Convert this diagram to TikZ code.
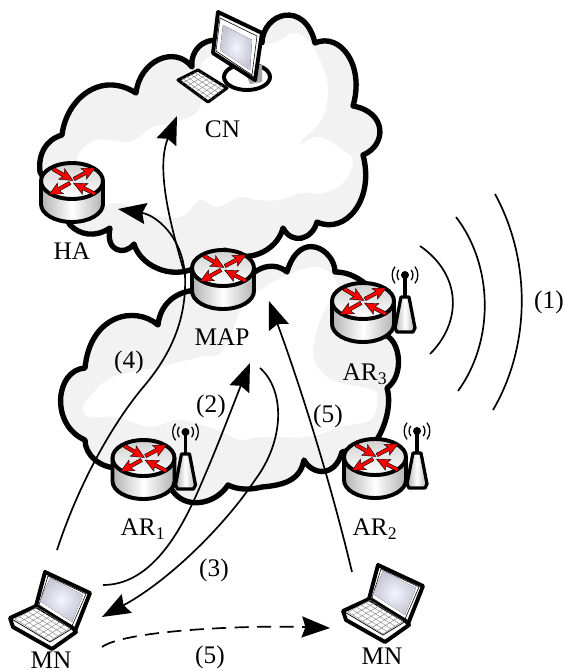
\documentclass[tikz,border=0pt]{standalone}
\usepackage{fontspec}
\setmainfont{Liberation Serif}
\usetikzlibrary{arrows.meta,calc}

\tikzset{
  cloudline/.style={line width=3.8pt,line join=round,fill=black!5},
  devline/.style={line width=2.8pt,line join=round},
  sideshade/.style={left color=black!30,right color=black!30,middle color=white},
  topshade/.style={top color=black!18,bottom color=white},
  screenshade/.style={inner color=blue!4,outer color=blue!25!black!22},
  lbl/.style={font=\fontsize{18}{20}\selectfont,inner sep=0pt},
  flow/.style={line width=1.2pt,-{Stealth[length=20pt,width=15pt,inset=2.5pt]}},
  plainflow/.style={line width=1.2pt},
  wave/.style={line width=1.2pt},
}

% router, top centre at #1
\newcommand{\router}[1]{
\begin{scope}[shift={(#1)}]
\draw[devline,sideshade] (-31,0) -- (-31,23) .. controls (-31,33) and (-17,41) .. (0,41)
  .. controls (17,41) and (31,33) .. (31,23) -- (31,0) -- cycle;
\draw[devline,topshade] (0,0) ellipse (31 and 18);
\foreach \sx/\sy/\ang/\len in {-19/-12/-30/23, 2/-2/28/24, -2/2/209/24, 23/13/153/24}{
  \begin{scope}[shift={(\sx,\sy)},rotate=\ang]
  \draw[line width=0.3pt,fill=red] (0,-1.8) -- (\len-11,-1.8) -- (\len-13,-6) -- (\len,0)
    -- (\len-13,6) -- (\len-11,1.8) -- (0,1.8) -- cycle;
  \end{scope}
}
\end{scope}
}

% antenna beside a router with top centre at #1
\newcommand{\antenna}[1]{
\begin{scope}[shift={(#1)}]
\draw[devline,line width=2.3pt,sideshade] (38,-4) -- (46,-4) -- (52,27) -- (50,31) -- (34,31) -- (32,27) -- cycle;
\draw[line width=2.6pt] (42,-26) -- (42,-4);
\fill (42,-26) circle (4);
\foreach \rr in {8,13}{
  \draw[line width=0.9pt] ($(42,-26)+(40:\rr)$) .. controls ($(42,-26)+(15:\rr*1.1)$) and ($(42,-26)+(-15:\rr*1.1)$) .. ($(42,-26)+(-40:\rr)$);
  \draw[line width=0.9pt] ($(42,-26)+(140:\rr)$) .. controls ($(42,-26)+(165:\rr*1.1)$) and ($(42,-26)+(195:\rr*1.1)$) .. ($(42,-26)+(220:\rr)$);
}
\end{scope}
}

% laptop, moved by #1
\newcommand{\laptop}[1]{
\begin{scope}[shift={(#1)}]
\draw[devline,fill=white] (45,572) -- (90,593) -- (75,631) -- (36,606) -- cycle;
\draw[line width=0.4pt] (48,576) -- (86,594) -- (72,626) -- (39,605) -- cycle;
\fill[screenshade] (50,578) -- (83,595) -- (72,622) -- (40,601) -- cycle;
\draw[devline,fill=white] (36,606) -- (10,618) -- (13,627) -- (52,649) -- (76,632) -- (73,628) -- cycle;
\draw[line width=0.5pt] (10,618) -- (50,642) -- (73,628);
\draw[line width=0.3pt,black!50] (37,607) -- (15,619) -- (50,641) -- (70,628) -- cycle;
\foreach \t in {0.14,0.28,...,0.9}{
  \draw[line width=0.3pt,black!50] ($(37,607)!\t!(70,628)$) -- ($(15,619)!\t!(50,641)$);
}
\foreach \t in {0.2,0.4,...,0.9}{
  \draw[line width=0.3pt,black!50] ($(37,607)!\t!(15,619)$) -- ($(70,628)!\t!(50,641)$);
}
\end{scope}
}

\begin{document}
\begin{tikzpicture}[x=0.025cm,y=-0.025cm]
\useasboundingbox (0,0) rectangle (565,671);

% upper cloud
\draw[cloudline] (40,172) .. controls (38,155) and (45,140) .. (62,135)
  .. controls (66,100) and (100,70) .. (136,93)
  .. controls (140,60) and (175,45) .. (192,67)
  .. controls (190,50) and (205,35) .. (225,42)
  .. controls (240,45) and (250,50) .. (262,43)
  .. controls (263,12) and (305,0) .. (315,43)
  .. controls (340,32) and (365,65) .. (353,106)
  .. controls (387,112) and (387,145) .. (363,155)
  .. controls (375,200) and (345,235) .. (317,222)
  .. controls (312,240) and (292,245) .. (283,228)
  .. controls (277,252) and (245,265) .. (225,250)
  -- (195,268)
  .. controls (170,280) and (140,265) .. (134,244)
  .. controls (125,256) and (105,252) .. (110,228)
  .. controls (95,238) and (80,235) .. (70,225) -- cycle;
\fill[white] plot[smooth cycle,tension=0.6] coordinates {(77,160) (97,140) (130,142) (153,127) (177,122)
  (200,107) (205,60) (273,43) (293,33) (310,43) (327,80) (323,117) (300,143) (320,137) (347,153)
  (353,163) (343,183) (323,193) (300,193) (280,200) (257,200) (240,197) (217,207) (200,200)
  (180,217) (147,213) (120,203) (95,203)};

% lower cloud
\draw[cloudline] (200,290) .. controls (175,290) and (160,305) .. (158,325)
  .. controls (135,305) and (90,315) .. (85,368)
  .. controls (55,370) and (50,425) .. (85,440)
  .. controls (85,455) and (100,468) .. (118,468)
  -- (172,490)
  .. controls (185,510) and (215,505) .. (228,485)
  .. controls (238,490) and (250,490) .. (262,487)
  .. controls (285,485) and (300,480) .. (304,460)
  .. controls (312,475) and (335,478) .. (342,452)
  -- (373,445)
  .. controls (385,430) and (392,405) .. (387,388)
  .. controls (405,375) and (400,340) .. (385,335)
  -- (367,285)
  .. controls (355,275) and (345,272) .. (335,272)
  .. controls (335,250) and (300,228) .. (287,272)
  .. controls (275,262) and (260,265) .. (245,280) -- cycle;
\fill[white] plot[smooth cycle,tension=0.6] coordinates {(83,407) (93,393) (113,377) (160,367) (200,357)
  (223,350) (245,300) (260,290) (283,277) (317,267) (337,285) (320,320) (313,355) (323,373) (340,383)
  (373,390) (377,403) (370,420) (340,427) (307,437) (260,437) (240,440) (217,430) (180,420)
  (150,427) (117,417) (90,417)};

% computer of the CN
\draw[devline,fill=white] (247,77) ellipse (23 and 13);
\fill[black!35] (240,60) -- (262,65) -- (262,82) -- (250,84) -- cycle;
\draw[devline,fill=white] (218,12) -- (262,33) -- (255,80) -- (213,53) -- cycle;
\draw[line width=0.4pt] (220,18) -- (257,36) -- (252,75) -- (216,51) -- cycle;
\fill[screenshade] (223,25) -- (252,40) -- (250,70) -- (220,50) -- cycle;
\draw[devline,line width=2.2pt,fill=white] (178,80) -- (198,70) -- (227,88) -- (208,102) -- cycle;
\foreach \t in {0.14,0.28,...,0.9}{
  \draw[line width=0.3pt,black!50] ($(198,70)!\t!(227,88)$) -- ($(178,80)!\t!(208,102)$);
}
\foreach \t in {0.2,0.4,...,0.9}{
  \draw[line width=0.3pt,black!50] ($(198,70)!\t!(178,80)$) -- ($(227,88)!\t!(208,102)$);
}

% routers
\router{72,181}
\router{223,268}
\router{363,301}
\router{143.5,458}
\router{375,457}
\antenna{363,301}
\antenna{143.5,458}
\antenna{375,457}

% the two MN
\laptop{0,0}
\laptop{333,-7}

% labels
\node[lbl] (cnL) at (222.5,129) {CN};
\node[lbl] (haL) at (72,251) {HA};
\node[lbl] (mapL) at (222,337) {MAP};
\node[lbl] (arThreeL) at (365,374) {AR\textsubscript{3}};
\node[lbl] (arOneL) at (143,529) {AR\textsubscript{1}};
\node[lbl] (arTwoL) at (375,529) {AR\textsubscript{2}};
\node[lbl] (mnOneL) at (51,660) {MN};
\node[lbl] (mnTwoL) at (382,656) {MN};
\node[lbl] (stepOne) at (549,302) {(1)};
\node[lbl] (stepTwo) at (211,406) {(2)};
\node[lbl] (stepThree) at (214,570) {(3)};
\node[lbl] (stepFour) at (129,362) {(4)};
\node[lbl] (stepFive) at (328,416) {(5)};
\node[lbl] (stepFiveB) at (210,657) {(5)};

% connector ends
\coordinate (mnOneUp) at (57,550);
\coordinate (split) at (185,275);
\coordinate (haTip) at (118,209);
\coordinate (cnTip) at (177,116);
\coordinate (mnOneOut) at (103,585);
\coordinate (mapIn) at (250,363);
\coordinate (mapOut) at (260,368);
\coordinate (mnOneIn) at (102,617);
\coordinate (mnOneMove) at (102,647);
\coordinate (mnTwoIn) at (330,628);
\coordinate (mnTwoUp) at (352,572);
\coordinate (mapInB) at (269,301);

% flows
\draw[plainflow] (mnOneUp) .. controls (80,480) and (115,420) .. (145,385)
  .. controls (170,355) and (187,320) .. (split);
\draw[flow] (split) .. controls (182,235) and (155,215) .. (haTip);
\draw[flow] (split) .. controls (172,230) and (155,170) .. (cnTip);
\draw[flow] (mnOneOut) .. controls (160,585) and (190,510) .. (205,475)
  .. controls (220,440) and (235,400) .. (mapIn);
\draw[flow] (mapOut) .. controls (285,390) and (285,440) .. (255,480)
  .. controls (225,525) and (170,580) .. (mnOneIn);
\draw[flow] (mnTwoUp) .. controls (330,480) and (300,385) .. (mapInB);
\draw[flow,dash pattern=on 10pt off 6pt] (mnOneMove) .. controls (125,630) and (250,625) .. (mnTwoIn);

% radio waves
\coordinate (waveA) at (420,246);
\coordinate (waveB) at (430,354);
\coordinate (waveC) at (456,217);
\coordinate (waveD) at (458,391);
\coordinate (waveE) at (495,194);
\coordinate (waveF) at (493,410);
\draw[wave] (waveA) .. controls (462,275) and (462,322) .. (waveB);
\draw[wave] (waveC) .. controls (493,265) and (495,340) .. (waveD);
\draw[wave] (waveE) .. controls (531,260) and (531,345) .. (waveF);

\end{tikzpicture}
\end{document}
